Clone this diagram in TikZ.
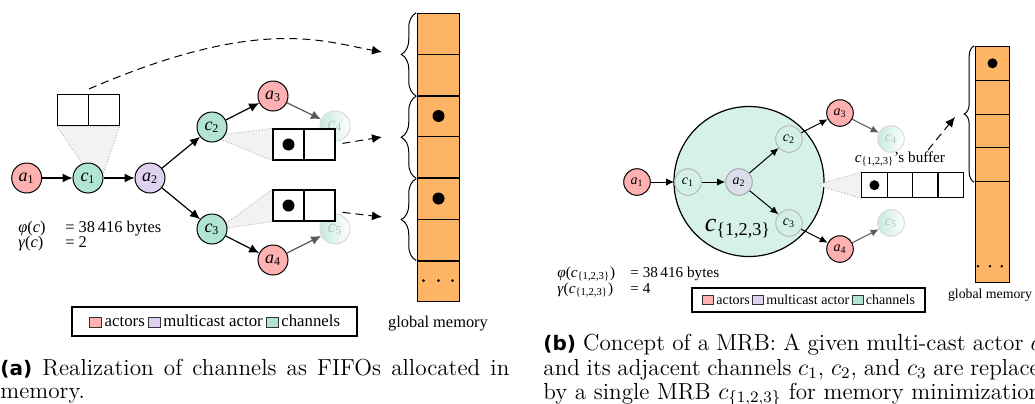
\documentclass[tikz,border=0pt]{standalone}
\usepackage{fontspec}
\usetikzlibrary{arrows.meta,decorations.pathreplacing}
\newfontfamily\tms{Liberation Serif}
\newfontfamily\capsf{DejaVu Sans}
\definecolor{actor}{RGB}{255,176,176}
\definecolor{mcast}{RGB}{222,210,240}
\definecolor{chan}{RGB}{178,228,210}
\definecolor{mem}{RGB}{253,180,100}
\definecolor{mrbfill}{RGB}{214,241,231}
\definecolor{mcastb}{RGB}{220,222,236}
\pgfdeclarelayer{bg}
\pgfsetlayers{bg,main}
\newcommand\nl[2]{\textit{#1}\textsubscript{#2}}
\newcommand\lsq[3]{{\fboxsep=0pt\fboxrule=0.5pt\fcolorbox{black!80}{#1}{\rule{0pt}{#3}\hspace{#2}}}}
\newcommand\sublab[1]{{\capsf\bfseries\fontsize{10}{12}\selectfont #1}}
\begin{document}
\begin{tikzpicture}[x=0.5pt,y=-0.5pt,
  nd/.style={circle,inner sep=0pt,line width=0.5pt},
  fa/.style={font=\tms\fontsize{9}{9}\selectfont},
  fb/.style={font=\tms\fontsize{7}{7}\selectfont},
  actA/.style={nd,draw,fill=actor,minimum size=15pt,fa},
  mcA/.style={nd,draw,fill=mcast,minimum size=15pt,fa},
  chA/.style={nd,draw,fill=chan,minimum size=15pt,fa},
  fadeA/.style={nd,draw=gray!30,left color=chan!75,right color=white,text=gray!50,minimum size=15pt,fa},
  actB/.style={nd,draw,fill=actor,minimum size=13.3pt,fb},
  mcB/.style={nd,draw=gray!70,fill=mcastb,minimum size=13.3pt,fb},
  chB/.style={nd,draw=gray!55,fill=mrbfill!90!chan,minimum size=13.3pt,fb},
  fadeB/.style={nd,draw=gray!30,left color=chan!75,right color=white,text=gray!50,minimum size=13.3pt,fb},
  arr/.style={-{Latex[length=5pt,width=4.5pt]},line width=0.6pt},
  arrg/.style={arr,draw=black!65,fill=black!65},
  arrb/.style={-{Latex[length=4pt,width=3.6pt]},line width=0.5pt},
  arrbg/.style={arrb,draw=black!65,fill=black!65},
  dsh/.style={-{Latex[length=5pt,width=4.5pt]},dash pattern=on 4pt off 2.5pt,line width=0.5pt},
  cellA/.style={draw,line width=0.6pt,fill=white,minimum width=15.5pt,minimum height=15.5pt,inner sep=0pt},
  cellB/.style={draw,line width=0.6pt,fill=white,minimum width=12.7pt,minimum height=12.5pt,inner sep=0pt},
  memA/.style={draw,fill=mem,line width=0.5pt,minimum width=20.75pt,minimum height=20.5pt,inner sep=0pt},
  memB/.style={draw,fill=mem,line width=0.5pt,minimum width=16.8pt,minimum height=17pt,inner sep=0pt},
  tz/.style={fill=gray!10,draw=gray!75,densely dotted,line width=0.4pt},
  brc/.style={decorate,line width=0.5pt},
  txa/.style={inner sep=0pt,font=\tms\fontsize{8.2}{8.2}\selectfont},
  txb/.style={inner sep=0pt,font=\tms\fontsize{7.6}{7.6}\selectfont},
  captxt/.style={inner sep=0pt,anchor=base west,font=\fontsize{11.6}{13}\selectfont}
]
\useasboundingbox (0,0) rectangle (1035,403);

% ================= panel (a) =================
\node[actA] (a1) at (26.7,178) {\nl{a}{1}};
\node[chA]  (c1) at (88,178) {\nl{c}{1}};
\node[mcA]  (a2) at (150,178) {\nl{a}{2}};
\node[chA]  (c2) at (212,127) {\nl{c}{2}};
\node[actA] (a3) at (273,96) {\nl{a}{3}};
\node[fadeA] (c4) at (335,126) {\nl{c}{4}};
\node[chA]  (c3) at (212,229) {\nl{c}{3}};
\node[actA] (a4) at (273,260) {\nl{a}{4}};
\node[fadeA] (c5) at (335,229) {\nl{c}{5}};

\draw[arr] (a1) -- (c1);
\draw[arr] (c1) -- (a2);
\draw[arr] (a2) -- (c2);
\draw[arr] (a2) -- (c3);
\draw[arr] (c2) -- (a3);
\draw[arr] (c3) -- (a4);
\draw[arrg] (a3) -- (c4);
\draw[arrg] (a4) -- (c5);

% buffers
\node[cellA] (b1l) at (73,110) {};
\node[cellA] (b1r) at (104,110) {};
\node[cellA] (b2l) at (288.5,144.5) {};
\node[cellA] (b2r) at (319.5,144.5) {};
\node[cellA] (b3l) at (288.5,205.5) {};
\node[cellA] (b3r) at (319.5,205.5) {};
\fill (b2l.center) circle[radius=3pt];
\fill (b3l.center) circle[radius=3pt];

\begin{pgfonlayer}{bg}
\draw[tz] (b1l.south west) -- (c1.112) -- (c1.15) -- (b1r.south east) -- cycle;
\draw[tz] (c2.-27) -- (b2l.north west) -- (b2l.south west) -- (c2.-54) -- cycle;
\draw[tz] (c3.22) -- (b3l.north west) -- (b3l.south west) -- (c3.4) -- cycle;
\end{pgfonlayer}

% memory (a)
\foreach \i/\y in {1/33.8,2/75,3/116,4/157.3,5/198.5,6/239.5,7/280.6}
  \node[memA] (m\i) at (438.5,\y) {};
\fill (m3.center) circle[radius=3pt];
\fill (m5.center) circle[radius=3pt];
\foreach \dx in {-15,0,14} \fill ([xshift=\dx*0.5pt]m7.center) circle[radius=0.8pt];
\foreach \i in {2,4,6} \draw[line width=1pt] (m\i.south west) -- (m\i.south east);
\draw[brc,decoration={brace,amplitude=7.5pt}] ([xshift=-0.5pt]m2.south west) -- ([xshift=-0.5pt]m1.north west);
\draw[brc,decoration={brace,amplitude=7.5pt}] ([xshift=-0.5pt]m4.south west) -- ([xshift=-0.5pt,yshift=-0.6pt]m3.north west);
\draw[brc,decoration={brace,amplitude=7.5pt}] ([xshift=-0.5pt]m6.south west) -- ([xshift=-0.5pt,yshift=-0.6pt]m5.north west);

\coordinate (t1) at (382,52);
\coordinate (t2) at (382,137);
\coordinate (t3) at (382,217);
\draw[dsh] ([yshift=2.5pt]b1l.north east) .. controls (258,16) and (322,41) .. (t1);
\draw[dsh,shorten <=3.5pt] (b2r.east) -- (t2);
\draw[dsh,shorten <=3.5pt] ([yshift=-3pt]b3r.east) -- (t3);

\node[txa,anchor=base west] (phia) at (18,232) {\textit{φ}(\textit{c})};
\node[txa,anchor=base west] (phiva) at (65,232) {= 38\,416 bytes};
\node[txa,anchor=base west] (gama) at (18,247) {\textit{γ}(\textit{c})};
\node[txa,anchor=base west] (gamva) at (65,247) {= 2};

\node[draw,line width=0.6pt,minimum width=142.5pt,minimum height=14.5pt,inner sep=0pt,font=\tms\fontsize{8.4}{8.4}\selectfont] (lega) at (214.5,321.5)
  {\lsq{actor}{5.5pt}{4.5pt}\,actors\,\lsq{mcast}{5.5pt}{4.5pt}\,multicast actor\,\lsq{chan}{5.5pt}{4.5pt}\,channels};
\node[txa,anchor=base] (gma) at (438,327) {global memory};

\node[captxt] (capa1) at (0,375) {\makebox[254.5pt][s]{\sublab{(a)} Realization of channels as FIFOs allocated in}};
\node[captxt] (capa2) at (0,398) {memory.};

% ================= panel (b) =================
\node[nd,draw,line width=0.6pt,fill=mrbfill,minimum size=75pt] (mrb) at (749,181.5) {};
\node[font=\tms\fontsize{13}{13}\selectfont,inner sep=0pt] (mrblab) at (738,229) {\textit{c}\textsubscript{\{1,2,3\}}};
\node[actB] (ba1) at (637,182) {\nl{a}{1}};
\node[chB]  (bc1) at (688,182) {\nl{c}{1}};
\node[mcB]  (ba2) at (739,182) {\nl{a}{2}};
\node[chB]  (bc2) at (789,139) {\nl{c}{2}};
\node[actB] (ba3) at (840,113) {\nl{a}{3}};
\node[fadeB] (bc4) at (891,139) {\nl{c}{4}};
\node[chB]  (bc3) at (789,223) {\nl{c}{3}};
\node[actB] (ba4) at (840,249) {\nl{a}{4}};
\node[fadeB] (bc5) at (891,223) {\nl{c}{5}};

\draw[arrb] (ba1) -- (bc1);
\draw[arrb] (bc1) -- (ba2);
\draw[arrb] (ba2) -- (bc2);
\draw[arrb] (ba2) -- (bc3);
\draw[arrb] (bc2) -- (ba3);
\draw[arrb] (bc3) -- (ba4);
\draw[arrbg] (ba3) -- (bc4);
\draw[arrbg] (ba4) -- (bc5);

\foreach \i/\x in {1/874.4,2/899.8,3/925.2,4/950.6}
  \node[cellB] (bb\i) at (\x,185.2) {};
\fill (bb1.center) circle[radius=2.5pt];
\coordinate (apex) at (820,185);
\fill[gray!10] ([yshift=0.5pt]apex) -- ([xshift=-0.3pt]bb1.north west) -- ([xshift=-0.3pt]bb1.south west) -- ([yshift=-0.5pt]apex) -- cycle;
\draw[gray!75,densely dotted,line width=0.4pt] ([yshift=0.5pt]apex) -- (bb1.north west) (bb1.south west) -- ([yshift=-0.5pt]apex);

\node[txb,anchor=base] (buflab) at (900,162.7) {\textit{c}\textsubscript{\{1,2,3\}}’s buffer};

% memory (b)
\foreach \i/\y in {1/63.3,2/97.5,3/131,4/164.7}
  \node[memB] (bm\i) at (992.5,\y) {};
\node[draw,fill=mem,line width=0.5pt,minimum width=16.8pt,minimum height=50.5pt,inner sep=0pt] (bm5) at (992.5,232.2) {};
\fill (bm1.center) circle[radius=2.5pt];
\foreach \dx in {-14.5,-2.5,9.2} \fill ([xshift=\dx*0.5pt,yshift=-17pt]bm5.center) circle[radius=0.7pt];
\draw[brc,decoration={brace,amplitude=5pt}] ([xshift=-0.5pt]bm4.south west) -- ([xshift=-0.5pt]bm1.north west);

\coordinate (bs) at (928,150);
\coordinate (bt) at (955,117);
\draw[dsh] (bs) -- (bt);

\node[txb,anchor=base west] (phib) at (557,277) {\textit{φ}(\textit{c}\textsubscript{\{1,2,3\}})};
\node[txb,anchor=base west] (phivb) at (630,277) {= 38\,416 bytes};
\node[txb,anchor=base west] (gamb) at (557,293) {\textit{γ}(\textit{c}\textsubscript{\{1,2,3\}})};
\node[txb,anchor=base west] (gamvb) at (630,293) {= 4};

\node[draw,line width=0.6pt,minimum width=116.5pt,minimum height=12pt,inner sep=0pt,font=\tms\fontsize{7}{7}\selectfont] (legb) at (808.5,300)
  {\lsq{actor}{5pt}{4pt}\,actors\,\lsq{mcast}{5pt}{4pt}\,multicast actor\,\lsq{chan}{5pt}{4pt}\,channels};
\node[inner sep=0pt,font=\tms\fontsize{6.9}{7}\selectfont,anchor=base] (gmb) at (990,298) {global memory};

\node[captxt] (capb1) at (543,350) {\makebox[254.5pt][s]{\sublab{(b)} Concept of a MRB: A given multi-cast actor $a_2$}};
\node[captxt] (capb2) at (543,375) {\makebox[254.5pt][s]{and its adjacent channels $c_1$, $c_2$, and $c_3$ are replaced}};
\node[captxt] (capb3) at (543,399) {by a single MRB $c_{\{1,2,3\}}$ for memory minimization.};
\end{tikzpicture}
\end{document}
